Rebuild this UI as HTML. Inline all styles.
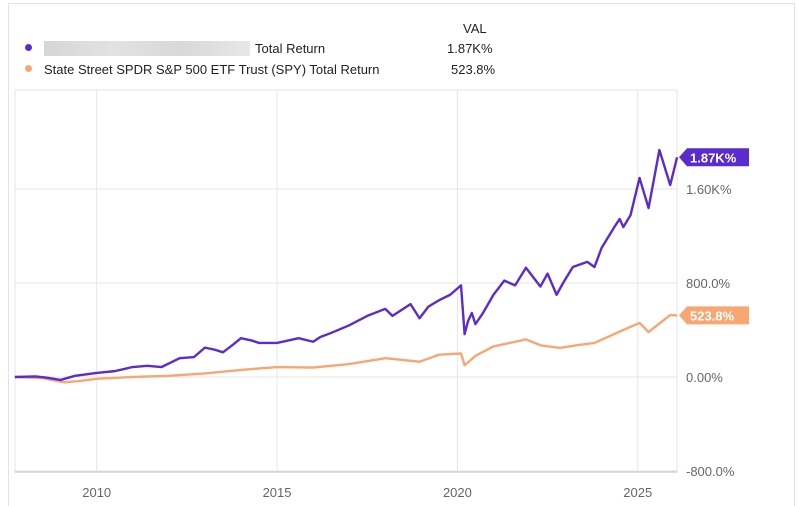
<!DOCTYPE html>
<html><head><meta charset="utf-8"><style>
body{margin:0;background:#fff;font-family:"Liberation Sans",sans-serif}
#wrap{position:relative;width:797px;height:506px;overflow:hidden}
.t{position:absolute;font-size:13px;color:#222;white-space:nowrap}
</style></head><body>
<div id="wrap">
<div style="position:absolute;left:8px;top:3px;width:785px;height:520px;border:1px solid #e3e3e3"></div>
<div class="t" style="left:463px;top:21px">VAL</div>
<div style="position:absolute;left:25px;top:44px;width:7px;height:7px;border-radius:50%;background:#5b2bd0"></div>
<div style="position:absolute;left:44px;top:41px;width:206px;height:15px;background:linear-gradient(90deg,#d6d6d6,#e2e2e2,#d8d8d8,#e8e8e8)"></div>
<div class="t" style="left:255px;top:41px">Total Return</div>
<div class="t" style="left:447px;top:41px">1.87K%</div>
<div style="position:absolute;left:25px;top:65px;width:7px;height:7px;border-radius:50%;background:#f8a672"></div>
<div class="t" style="left:44px;top:62px">State Street SPDR S&amp;P 500 ETF Trust (SPY) Total Return</div>
<div class="t" style="left:451px;top:62px">523.8%</div>
<svg id="svg" width="797" height="506" style="position:absolute;left:0;top:0"></svg>
</div>
<script>
const xTicks=[2010,2015,2020,2025];
const yTicks=[-800,0,800,1600];
const yTickLabels=["-800.0%","0.00%","800.0%","1.60K%"];
const fundYears=[2007.73,2008.3,2008.6,2009.0,2009.4,2010,2010.5,2011,2011.4,2011.8,2012.3,2012.7,2013,2013.3,2013.5,2013.8,2014,2014.3,2014.5,2015,2015.3,2015.6,2016,2016.2,2016.5,2017,2017.5,2018,2018.2,2018.7,2018.95,2019.2,2019.5,2019.8,2020.1,2020.2,2020.3,2020.4,2020.5,2020.7,2021,2021.3,2021.6,2021.9,2022.1,2022.3,2022.5,2022.75,2022.93,2023.2,2023.6,2023.8,2024.0,2024.35,2024.5,2024.6,2024.8,2025.05,2025.3,2025.6,2025.9,2026.09];
const fundVals=[0,5,-5,-25,10,35,50,85,95,85,160,170,250,230,210,280,330,310,290,290,310,330,300,340,375,440,520,580,520,620,500,600,655,700,780,365,480,545,450,540,700,820,780,930,850,770,880,700,800,936,980,936,1100,1276,1345,1276,1378,1694,1438,1932,1634,1870];
const spyYears=[2007.73,2008.5,2009.1,2009.5,2010,2011,2012,2013,2014,2015,2016,2017,2018,2018.95,2019.5,2020.1,2020.2,2020.5,2021,2021.9,2022.3,2022.84,2023.3,2023.8,2024.6,2025.05,2025.3,2025.9,2026.09];
const spyVals=[0,-10,-45,-35,-15,0,10,30,60,85,80,110,160,130,190,200,100,180,260,320,270,247,270,290,400,460,383,527,524];
const L=15,R=677,T=90,B=472;
const X=y=>96.7+(y-2010)*36.07;
const Y=v=>377-v*94/800;
const s=document.getElementById('svg');const NS='http://www.w3.org/2000/svg';
function mk(t,a){const e=document.createElementNS(NS,t);for(const k in a)e.setAttribute(k,a[k]);s.appendChild(e);return e;}
let e=mk('rect',{x:L,y:T,width:R-L,height:B-T,fill:'none',stroke:'#e6e6e6'});


xTicks.forEach(t=>{const g=mk('line',{x1:X(t),x2:X(t),y1:T,y2:B,stroke:'#e6e6e6'});


const l=mk('text',{x:X(t),y:497,'text-anchor':'middle','font-size':13,fill:'#666','font-family':'Liberation Sans, sans-serif'});l.textContent=t;

});
yTicks.forEach((t,i)=>{const g=mk('line',{x1:L,x2:R,y1:Y(t),y2:Y(t),stroke:'#e6e6e6'});


const l=mk('text',{x:686,y:Y(t)+5,'font-size':13,fill:'#666','font-family':'Liberation Sans, sans-serif'});l.textContent=yTickLabels[i];

});
e=mk('line',{x1:L,x2:R,y1:B,y2:B,stroke:'#d0d0d0','stroke-width':1.5});


function line(xs,vs,c,name){const p=mk('polyline',{points:xs.map((x,i)=>X(x)+','+Y(vs[i])).join(' '),fill:'none',stroke:c,'stroke-width':2.4,'stroke-linejoin':'round'});

}
line(spyYears,spyVals,'#f8a672','spy-line');
line(fundYears,fundVals,'#5b2bd0','fund-line');
function tag(v,txt,c,name){const y=Y(v);const g=mk('path',{d:`M679 ${y} L687 ${y-9} L749 ${y-9} L749 ${y+9} L687 ${y+9} Z`,fill:c});


const l=mk('text',{x:690,y:y+5,'font-size':13,'font-weight':'bold',fill:'#fff','font-family':'Liberation Sans, sans-serif'});l.textContent=txt;

}
tag(fundVals[fundVals.length-1],'1.87K%','#5b2bd0','fund-value-tag');
tag(spyVals[spyVals.length-1],'523.8%','#f8a672','spy-value-tag');
</script>
</body></html>
